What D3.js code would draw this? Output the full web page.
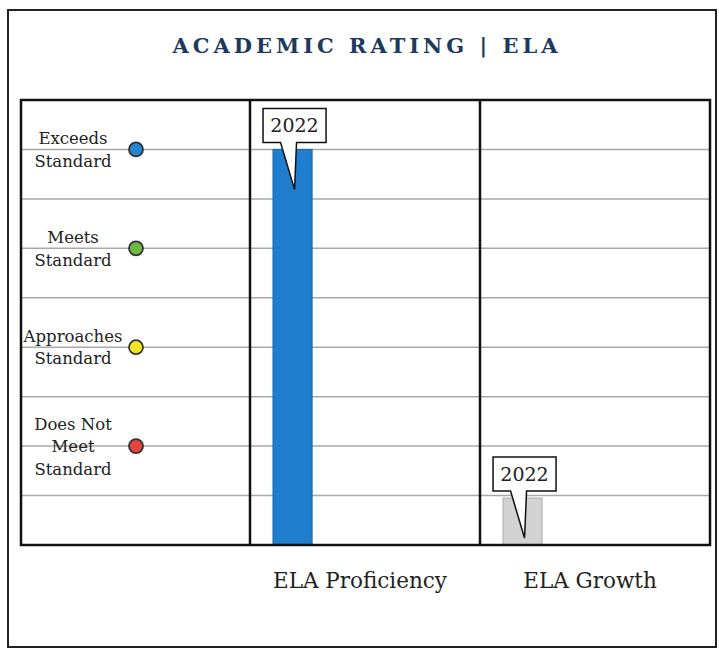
<!DOCTYPE html>
<html>
<head>
<meta charset="utf-8">
<script src="https://cdn.jsdelivr.net/npm/d3@7"></script>
<style>
  body { margin: 0; background: #fff; }
  text { font-family: "DejaVu Serif", serif; }
</style>
</head>
<body>
<div id="chart"></div>
<script>
// data
const categories = ["ELA Proficiency", "ELA Growth"];
const values = [8, 0.95];
const yearLabels = ["2022", "2022"];
const barColors = ["#1f7fce", "#d2d2d2"];
const ratingLevels = [8, 6, 4, 2];
const ratingLabels = [["Exceeds", "Standard"], ["Meets", "Standard"], ["Approaches", "Standard"], ["Does Not", "Meet", "Standard"]];
const ratingColors = ["#2385d4", "#6cb944", "#f4e521", "#e2463c"];
const gridLevels = [1, 2, 3, 4, 5, 6, 7, 8];

const width = 719, height = 650;
const frame = { left: 21, right: 710, top: 100, bottom: 545 };

const svg = d3.select("#chart").append("svg")
  .attr("width", width)
  .attr("height", height);

// outer page frame
svg.append("rect")
  .attr("x", 8).attr("y", 10)
  .attr("width", 708).attr("height", 637)
  .attr("fill", "none")
  .attr("stroke", "#222")
  .attr("stroke-width", 2);

svg.append("text")
  .attr("x", 367).attr("y", 53)
  .attr("text-anchor", "middle")
  .attr("fill", "#1d3a5e")
  .attr("font-size", 21)
  .attr("font-weight", "bold")
  .attr("letter-spacing", 4)
  .text("ACADEMIC RATING | ELA");

const y = d3.scaleLinear().domain([0, 9]).range([frame.bottom, frame.top]);
const x = d3.scaleBand().domain(categories).range([250, frame.right]);

// gridlines
svg.append("g")
  .selectAll("line")
  .data(gridLevels)
  .join("line")
  .attr("x1", frame.left).attr("x2", frame.right)
  .attr("y1", d => y(d)).attr("y2", d => y(d))
  .attr("stroke", "#a9a9a9")
  .attr("stroke-width", 1.5);

// legend
const legend = svg.append("g")
  .selectAll("g")
  .data(ratingLevels)
  .join("g");

legend.each(function (d, i) {
  const g = d3.select(this);
  const lines = ratingLabels[i];
  const lh = 22.5;
  const first = y(d) + 6 - (lines.length - 1) * lh / 2;
  g.selectAll("text")
    .data(lines)
    .join("text")
    .attr("x", 73)
    .attr("y", (t, j) => first + j * lh)
    .attr("text-anchor", "middle")
    .attr("font-size", 16.5)
    .attr("fill", "#222")
    .text(t => t);
  g.append("circle")
    .attr("cx", 136)
    .attr("cy", y(d))
    .attr("r", 7)
    .attr("fill", ratingColors[i])
    .attr("stroke", "#333")
    .attr("stroke-width", 1.8);
});

// bars
const barOffset = x.bandwidth() * 0.1;
const barWidth = x.bandwidth() * 0.17;
svg.append("g")
  .selectAll("rect")
  .data(categories)
  .join("rect")
  .attr("x", d => x(d) + barOffset)
  .attr("y", (d, i) => y(values[i]))
  .attr("width", barWidth)
  .attr("height", (d, i) => y(0) - y(values[i]))
  .attr("fill", (d, i) => barColors[i])
  .attr("stroke", (d, i) => i === 0 ? "#1a65a8" : "#aaa")
  .attr("stroke-width", 1);

// frame + dividers
svg.append("rect")
  .attr("x", frame.left).attr("y", frame.top)
  .attr("width", frame.right - frame.left)
  .attr("height", frame.bottom - frame.top)
  .attr("fill", "none")
  .attr("stroke", "#111")
  .attr("stroke-width", 2.5);

svg.append("g")
  .selectAll("line")
  .data(categories)
  .join("line")
  .attr("x1", d => x(d)).attr("x2", d => x(d))
  .attr("y1", frame.top).attr("y2", frame.bottom)
  .attr("stroke", "#111")
  .attr("stroke-width", 2.5);

// callouts
const callouts = svg.append("g")
  .selectAll("g")
  .data(categories)
  .join("g");

callouts.each(function (d, i) {
  const g = d3.select(this);
  const cx = x(d) + barOffset + barWidth / 2;
  const top = y(values[i]);
  const bw = 63, bh = 34;
  const by = top - 7 - bh;
  const bx = cx - bw / 2 + 2;
  const tl = cx - 12, tr = cx + 4, tip = cx + 2;
  const path = d3.path();
  path.moveTo(bx, by);
  path.lineTo(bx + bw, by);
  path.lineTo(bx + bw, by + bh);
  path.lineTo(tr, by + bh);
  path.lineTo(tip, top + 40);
  path.lineTo(tl, by + bh);
  path.lineTo(bx, by + bh);
  path.closePath();
  g.append("path")
    .attr("d", path.toString())
    .attr("fill", "#fff")
    .attr("stroke", "#111")
    .attr("stroke-width", 1.5);
  g.append("text")
    .attr("x", bx + bw / 2)
    .attr("y", by + bh / 2 + 7)
    .attr("text-anchor", "middle")
    .attr("font-size", 19)
    .attr("fill", "#222")
    .text(yearLabels[i]);
});

// category labels
svg.append("g")
  .selectAll("text")
  .data(categories)
  .join("text")
  .attr("x", d => x(d) + x.bandwidth() / 2 - 5)
  .attr("y", 588)
  .attr("text-anchor", "middle")
  .attr("font-size", 21.5)
  .attr("fill", "#222")
  .text(d => d);
</script>
</body>
</html>
